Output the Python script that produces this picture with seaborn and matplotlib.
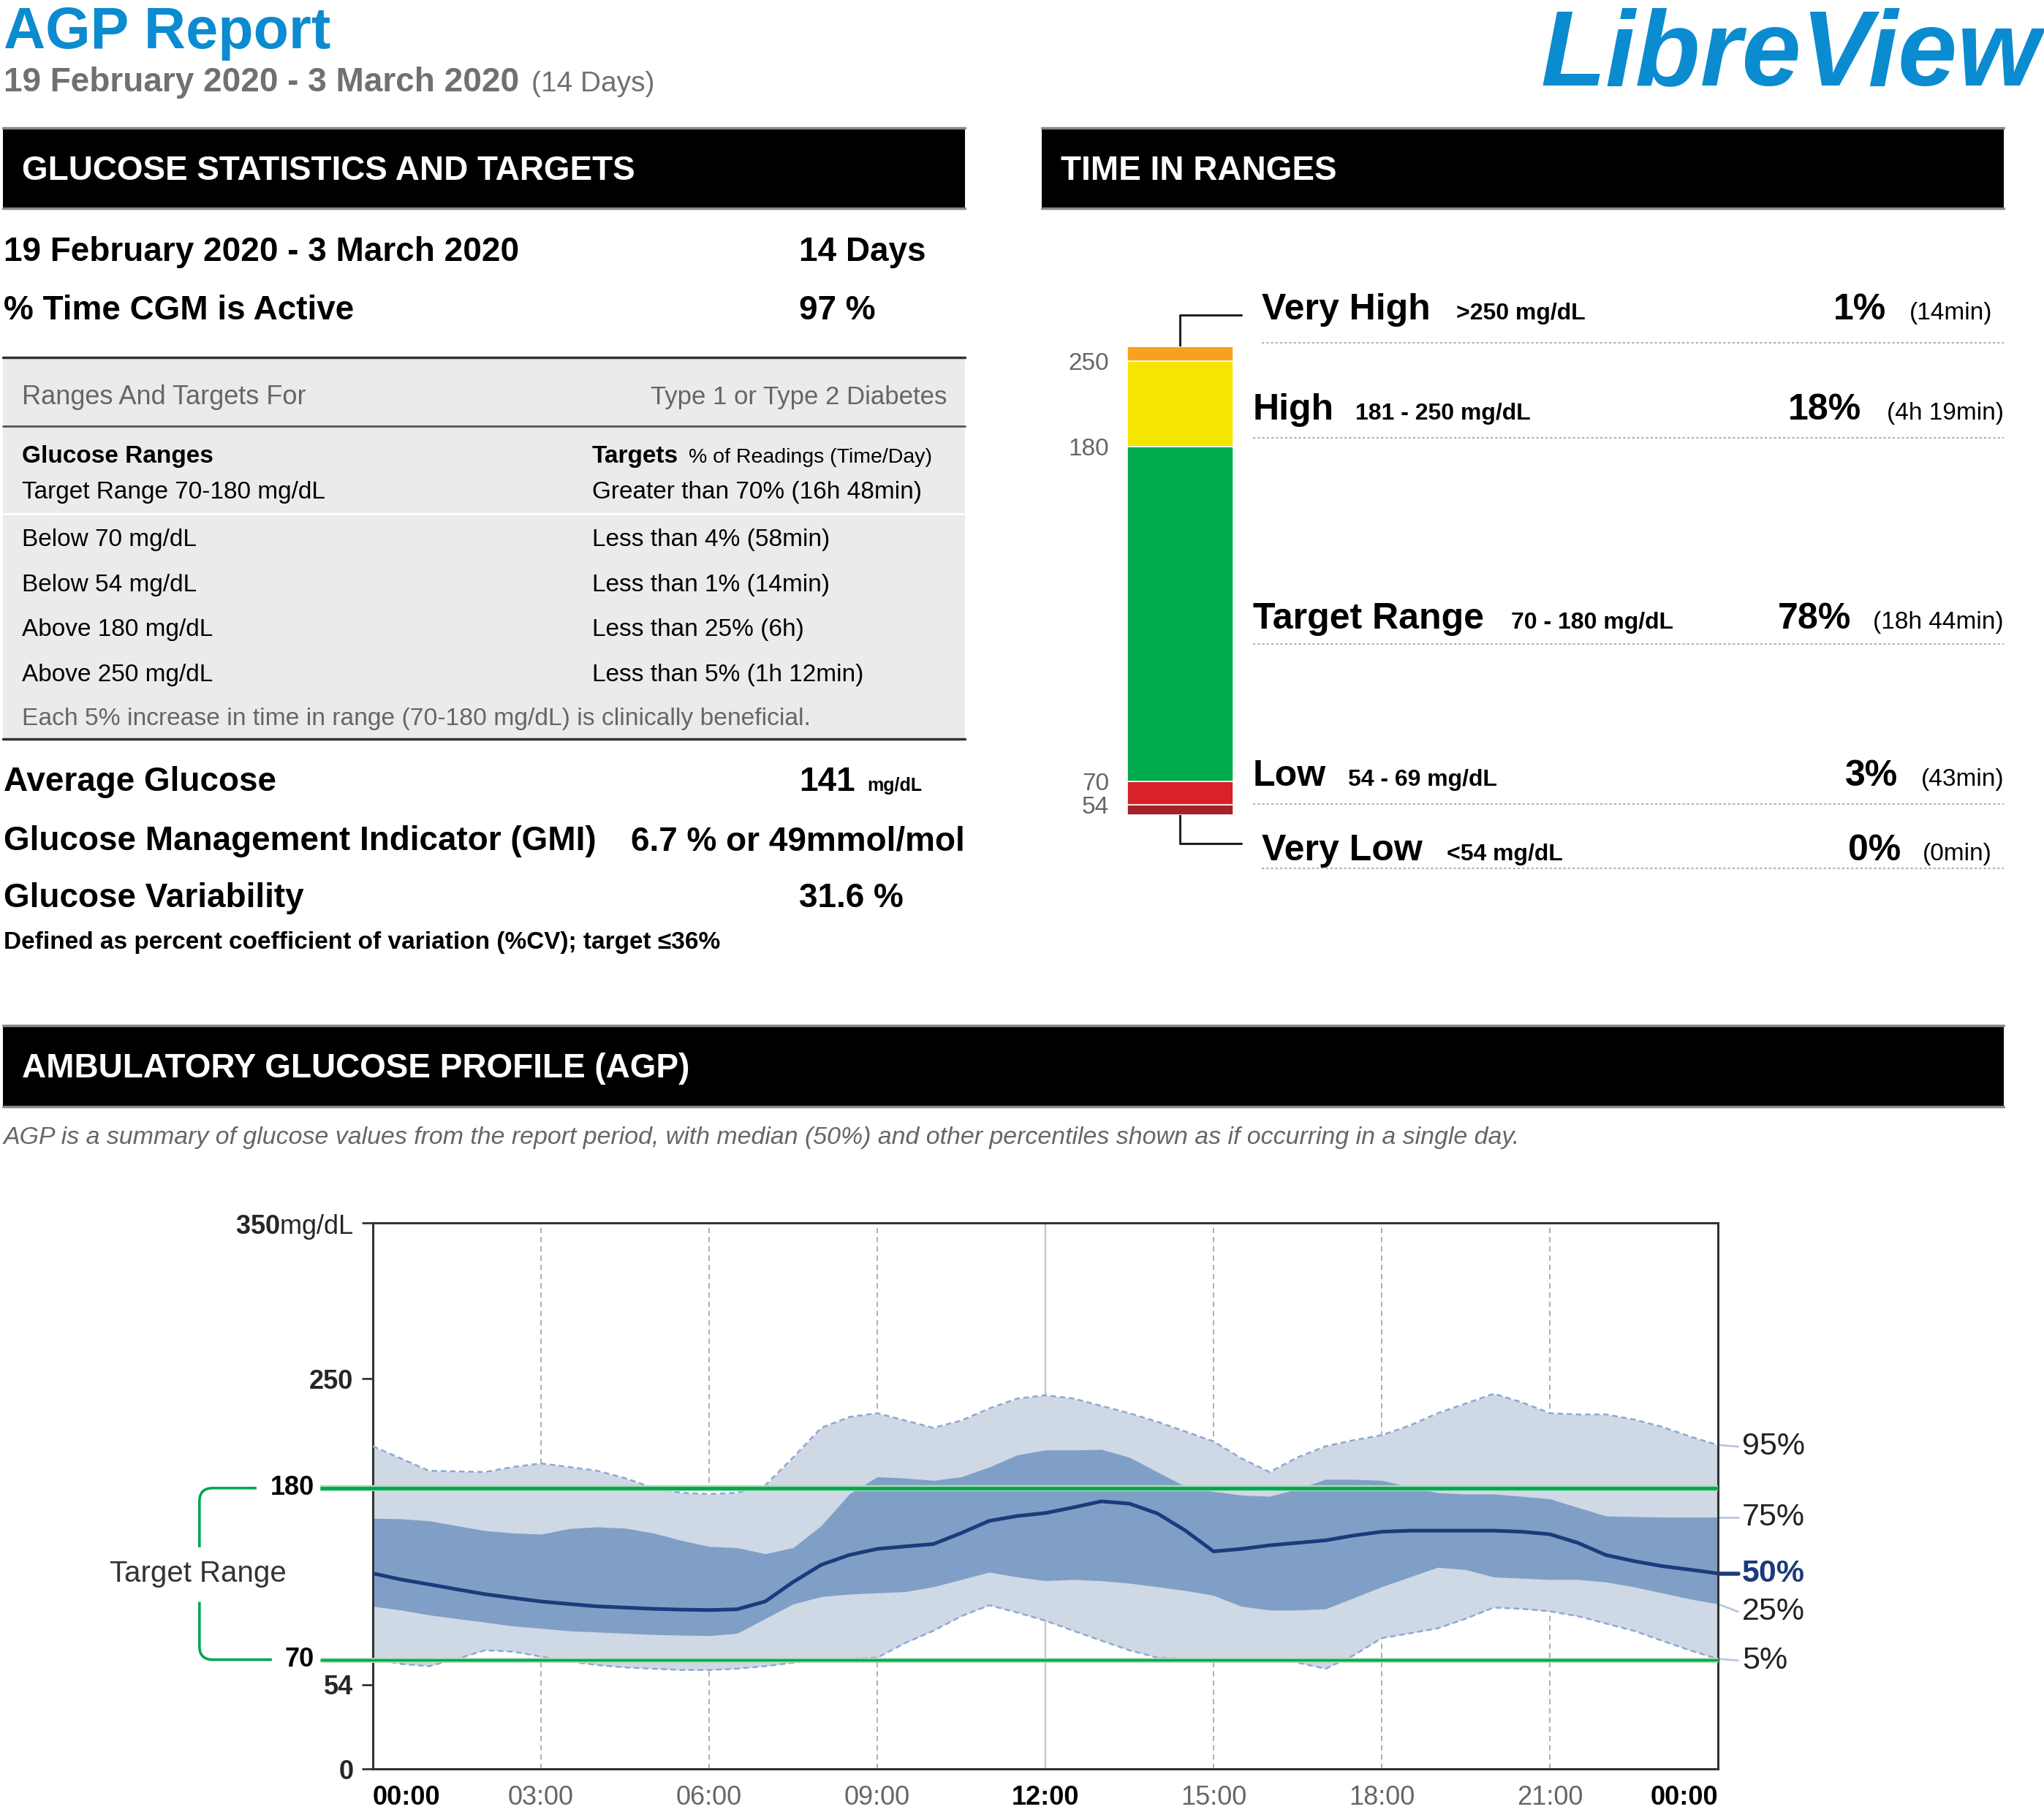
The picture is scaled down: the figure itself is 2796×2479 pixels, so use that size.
import numpy as np
import pandas as pd
import matplotlib
matplotlib.use("Agg")
import matplotlib.pyplot as plt
import seaborn as sns
from matplotlib.patches import Rectangle, PathPatch
from matplotlib.path import Path

# ---- report data ----
date_range = "19 February 2020 - 3 March 2020"
n_days = 14
cgm_active = 97
avg_glucose = 141
gmi_text = "6.7 % or 49mmol/mol"
glucose_cv = 31.6

range_labels = ["Target Range 70-180 mg/dL", "Below 70 mg/dL", "Below 54 mg/dL",
                "Above 180 mg/dL", "Above 250 mg/dL"]
target_labels = ["Greater than 70% (16h 48min)", "Less than 4% (58min)", "Less than 1% (14min)",
                 "Less than 25% (6h)", "Less than 5% (1h 12min)"]

# time in ranges, bottom -> top
tir_names = ["Very Low", "Low", "Target Range", "High", "Very High"]
tir_ranges = ["<54 mg/dL", "54 - 69 mg/dL", "70 - 180 mg/dL", "181 - 250 mg/dL", ">250 mg/dL"]
tir_pct = np.array([0, 3, 78, 18, 1])
tir_time = ["(0min)", "(43min)", "(18h 44min)", "(4h 19min)", "(14min)"]
tir_bounds = ["54", "70", "180", "250"]
tir_colors = ["#a3222a", "#d92128", "#00aa4f", "#f4e600", "#f7a11d"]

# AGP percentiles, every half hour from 00:00 to 24:00
hours = np.arange(0, 24.5, 0.5)
p95 = [206.8, 199.0, 191.1, 190.7, 190.3, 193.5, 195.8, 193.5, 191.1, 186.4, 180.2, 177.0, 176.2,
       177.0, 181.7, 199.7, 218.6, 225.6, 228.0, 223.3, 218.6, 223.3, 231.1, 237.4, 239.5,
       237.4, 232.7, 228.0, 222.5, 216.2, 209.9, 199.0, 190.3, 199.7, 206.8, 210.7, 213.9,
       220.1, 228.0, 234.2, 240.5, 235.0, 228.0, 227.2, 227.2, 224.0, 219.3, 213.1, 207.6]
p75 = [160.6, 160.3, 159.0, 155.9, 152.7, 151.2, 150.4, 154.0, 155.1, 154.3, 151.2, 146.5, 142.6,
       141.8, 137.9, 141.8, 155.9, 176.2, 187.2, 186.4, 184.9, 187.2, 193.5, 201.3, 204.4,
       204.4, 204.8, 199.7, 190.3, 180.9, 177.8, 175.5, 174.7, 179.4, 185.6, 185.6, 184.9,
       180.9, 177.0, 176.2, 176.2, 174.7, 173.1, 167.6, 162.1, 161.7, 161.4, 161.4, 161.4]
p50 = [125.3, 121.4, 118.3, 115.1, 112.0, 109.6, 107.3, 105.7, 104.2, 103.4, 102.6, 102.1, 101.8,
       102.3, 107.3, 119.8, 130.8, 137.1, 141.0, 142.6, 144.1, 151.2, 159.0, 162.1, 164.0,
       167.6, 171.5, 170.0, 163.7, 152.7, 139.4, 141.0, 143.3, 144.9, 146.5, 149.6, 152.0,
       152.7, 152.7, 152.7, 152.7, 152.0, 150.4, 144.9, 137.1, 133.2, 130.0, 127.7, 125.3]
p25 = [104.2, 101.8, 98.7, 96.3, 94.0, 91.6, 90.1, 88.5, 87.7, 86.9, 86.1, 85.7, 85.4,
       86.9, 96.3, 105.7, 110.4, 112.0, 112.8, 113.6, 116.7, 121.4, 126.1, 123.0, 120.6,
       121.4, 120.6, 119.0, 116.7, 114.3, 111.2, 104.2, 101.8, 101.8, 102.6, 109.6, 116.7,
       123.0, 129.2, 127.7, 123.0, 122.2, 121.4, 121.4, 119.8, 116.7, 112.8, 108.9, 105.7]
p5 = [70.5, 67.3, 65.8, 70.5, 76.0, 75.2, 72.0, 68.9, 66.6, 65.0, 64.2, 63.4, 63.4,
      64.2, 65.8, 68.1, 69.7, 70.5, 71.3, 80.7, 88.5, 97.9, 104.9, 100.2, 95.0,
      88.5, 82.2, 76.0, 71.3, 70.5, 70.5, 70.5, 70.5, 68.1, 64.2, 72.8, 83.8,
      86.9, 90.1, 96.3, 103.4, 102.6, 101.0, 97.9, 93.2, 88.5, 82.2, 76.0, 70.5]
pct_labels = ["95%", "75%", "50%", "25%", "5%"]
time_labels = ["00:00", "03:00", "06:00", "09:00", "12:00", "15:00", "18:00", "21:00", "00:00"]

agp = pd.DataFrame({"hour": hours, "p5": p5, "p25": p25, "p50": p50, "p75": p75, "p95": p95})

# ---- style ----
sns.set_theme(style="white")
plt.rcParams["font.family"] = ["Liberation Sans", "DejaVu Sans"]
plt.rcParams["mathtext.fontset"] = "custom"
plt.rcParams["mathtext.rm"] = "Liberation Sans"
plt.rcParams["mathtext.bf"] = "Liberation Sans:bold"

BLUE = "#0b8bd0"
GREY = "#707070"
GREEN = "#00a650"

W, H = 2796, 2479
fig = plt.figure(figsize=(W / 100, H / 100), dpi=100)
fig.patch.set_facecolor("white")
page = fig.add_axes([0, 0, 1, 1], zorder=0)
page.set_xlim(0, W)
page.set_ylim(H, 0)
page.axis("off")


def rect(x0, y0, x1, y1):
    return [x0 / W, 1 - y1 / H, (x1 - x0) / W, (y1 - y0) / H]


def put(x, y, s, size, weight="normal", color="black", ha="left", style="normal"):
    page.text(x, y, s, fontsize=size, fontweight=weight, color=color, ha=ha,
              va="baseline", fontstyle=style)


def header(x0, x1, y0, y1, label):
    page.add_patch(Rectangle((x0, y0), x1 - x0, y1 - y0, facecolor="black", edgecolor="none"))
    page.plot([x0, x1], [y0, y0], color="#8a8a8a", lw=2.5)
    page.plot([x0, x1], [y1, y1], color="#8a8a8a", lw=2.5)
    put(x0 + 26, (y0 + y1) / 2 + 16, label, 33, "bold", "white")


# ---- title ----
put(5, 66, "AGP Report", 57, "bold", BLUE)
put(5, 125, date_range, 33, "bold", GREY)
put(727, 125, f"({n_days} Days)", 28, color=GREY)
put(2791, 116, "LibreView", 105, "bold", BLUE, ha="right", style="italic")

header(4, 1320, 175, 285, "GLUCOSE STATISTICS AND TARGETS")
header(1425, 2741, 175, 285, "TIME IN RANGES")
header(4, 2741, 1403, 1514, "AMBULATORY GLUCOSE PROFILE (AGP)")

# ---- glucose statistics ----
put(5, 357, date_range, 33, "bold")
put(1093, 357, f"{n_days} Days", 33, "bold")
put(5, 437, "% Time CGM is Active", 33, "bold")
put(1093, 437, f"{cgm_active} %", 33, "bold")

page.add_patch(Rectangle((4, 489), 1316, 522, facecolor="#ebebea", edgecolor="none"))
page.plot([4, 1320], [489, 489], color="#333333", lw=2.5)
page.plot([4, 1320], [583, 583], color="#555555", lw=2)
page.plot([4, 1320], [703, 703], color="white", lw=2)
page.plot([4, 1320], [1011, 1011], color="#333333", lw=2.5)
put(30, 553, "Ranges And Targets For", 26, color="#666666")
put(1295, 553, "Type 1 or Type 2 Diabetes", 25, color="#666666", ha="right")
put(30, 633, "Glucose Ranges", 24, "bold")
put(810, 633, "Targets", 24, "bold")
put(1275, 633, "% of Readings (Time/Day)", 20.5, ha="right")
for yb, rl, tl in zip([682, 747, 809, 870, 932], range_labels, target_labels):
    put(30, yb, rl, 24)
    put(810, yb, tl, 24)
put(30, 992, "Each 5% increase in time in range (70-180 mg/dL) is clinically beneficial.",
    24.2, color="#666666")

put(5, 1082, "Average Glucose", 33, "bold")
put(1093, 1082, f"{avg_glucose}", 33, "bold")
put(1186, 1082, "mg/dL", 18, "bold")
put(5, 1163, "Glucose Management Indicator (GMI)", 33, "bold")
put(863, 1163, gmi_text, 33, "bold")
put(5, 1241, "Glucose Variability", 33, "bold")
put(1093, 1241, f"{glucose_cv} %", 33, "bold")
put(5, 1298, "Defined as percent coefficient of variation (%CV); target \u226436%", 24, "bold")

# ---- time in ranges bar ----
tir = fig.add_axes(rect(1542, 474, 1687, 1115), zorder=1)
shown = tir_pct + 2.5  # small floor so thin ranges stay visible
bottoms = np.concatenate([[0], np.cumsum(shown)[:-1]])
tir.bar(0, shown, bottom=bottoms, width=1.0, color=tir_colors, edgecolor="white", linewidth=1.2)
tir.set_xlim(-0.5, 0.5)
tir.set_ylim(0, shown.sum())
tir.set_xticks([])
tir.set_yticks(bottoms[1:])
tir.set_yticklabels(tir_bounds)
tir.tick_params(axis="y", length=0, pad=18, labelsize=24, labelcolor="#666666")
for s in tir.spines.values():
    s.set_visible(False)

page.plot([1614, 1614, 1698], [474, 431, 431], color="#222222", lw=2.2)
page.plot([1614, 1614, 1698], [1115, 1154, 1154], color="#222222", lw=2.2)

name_x = [1726, 1714, 1714, 1714, 1726]
sub_x = [1979, 1844, 2067, 1854, 1992]
base_y = [1177, 1075, 860, 574, 437]
pct_right = [2600, 2596, 2532, 2546, 2580]
time_right = [2725, 2741, 2741, 2741, 2725]
dot_y = [1188, 1100, 881, 599, 469]
for i in range(5):
    put(name_x[i], base_y[i], tir_names[i], 36, "bold")
    put(sub_x[i], base_y[i], tir_ranges[i], 23, "bold")
    put(pct_right[i], base_y[i], f"{tir_pct[i]}%", 36, "bold", ha="right")
    put(time_right[i], base_y[i], tir_time[i], 24, ha="right")
    page.plot([name_x[i], 2741], [dot_y[i], dot_y[i]], color="#b0b0b0", lw=1.5,
              ls=(0, (1.5, 1.5)))

# ---- AGP ----
put(5, 1565, "AGP is a summary of glucose values from the report period, with median (50%) "
    "and other percentiles shown as if occurring in a single day.", 24.4, color="#666666",
    style="italic")

ax = fig.add_axes(rect(510, 1673, 2350, 2420), zorder=2)
ax.set_facecolor("white")
ax.set_xlim(0, 24)
ax.set_ylim(0, 350)

for h in [3, 6, 9, 15, 18, 21]:
    ax.axvline(h, color="#a8a8a8", lw=1.3, ls=(0, (4, 3)), zorder=0.5)
ax.axvline(12, color="#c4c4c4", lw=1.6, zorder=0.5)

ax.fill_between(agp["hour"], agp["p5"], agp["p95"], color="#cfd8e5", lw=0, zorder=1)
ax.fill_between(agp["hour"], agp["p25"], agp["p75"], color="#809fc6", lw=0, zorder=2)
for col in ["p95", "p5"]:
    sns.lineplot(data=agp, x="hour", y=col, ax=ax, color="#8ea8d3", lw=1.8,
                 linestyle=(0, (3, 2)), zorder=3)

ytr = ax.get_yaxis_transform()
for val, halo, core in [(180, 6, 3.4), (70, 5, 2.4)]:
    ax.plot([-0.039, 1], [val, val], transform=ytr, color="#a9dcb8", lw=halo,
            clip_on=False, zorder=4, solid_capstyle="butt")
    ax.plot([-0.039, 1], [val, val], transform=ytr, color=GREEN, lw=core,
            clip_on=False, zorder=4.1, solid_capstyle="butt")
    ax.text(-0.0435, val, str(val), transform=ytr, ha="right", va="center",
            fontsize=26, fontweight="bold", color="black")

sns.lineplot(data=agp, x="hour", y="p50", ax=ax, color="#1c3a7c", lw=3.6, zorder=5)

# target range bracket
xL, xa1, xa2, rx, ry = -0.1289, -0.0865, -0.0751, 0.010, 8.5
upper = Path([(xa1, 180), (xL + rx, 180), (xL, 180), (xL, 180 - ry), (xL, 142)],
             [Path.MOVETO, Path.LINETO, Path.CURVE3, Path.CURVE3, Path.LINETO])
lower = Path([(xL, 107), (xL, 70 + ry), (xL, 70), (xL + rx, 70), (xa2, 70)],
             [Path.MOVETO, Path.LINETO, Path.CURVE3, Path.CURVE3, Path.LINETO])
for pth in [upper, lower]:
    ax.add_patch(PathPatch(pth, transform=ytr, fill=False, edgecolor=GREEN, lw=2.6,
                           clip_on=False))
ax.text(-0.130, 125, "Target Range", transform=ytr, ha="center", va="center",
        fontsize=29, color="#333333")

# percentile labels at the right edge
ends = [p95[-1], p75[-1], p50[-1], p25[-1], p5[-1]]
label_y = [ends[0] - 1, ends[1], ends[2], ends[3] - 5, ends[4] - 1]
for i, lab in enumerate(pct_labels):
    is_med = lab == "50%"
    ax.plot([1.0, 1.015], [ends[i], label_y[i]], transform=ytr, clip_on=False,
            color="#1c3a7c" if is_med else "#b8c6dc", lw=4 if is_med else 2)
    ax.text(1.018, label_y[i], lab, transform=ytr, ha="left", va="center", fontsize=31,
            fontweight="bold" if is_med else "normal",
            color="#1c3a7c" if is_med else "#222222")

ax.set_xticks(range(0, 25, 3))
ax.set_xticklabels(time_labels)
ax.set_yticks([0, 54, 250, 350])
ax.set_yticklabels(["0", "54", "250", r"$\mathbf{350}$mg/dL"])
ax.tick_params(axis="x", length=0, pad=16, labelsize=26)
ax.tick_params(axis="y", left=True, direction="out", length=11, width=2, color="#333333",
               pad=8, labelsize=26)
for i, t in enumerate(ax.get_xticklabels()):
    if i in (0, 4, 8):
        t.set_fontweight("bold")
        t.set_color("black")
    else:
        t.set_color("#666666")
ax.get_xticklabels()[0].set_ha("left")
ax.get_xticklabels()[-1].set_ha("right")
for t in ax.get_yticklabels()[:3]:
    t.set_fontweight("bold")
ax.set_xlabel("")
ax.set_ylabel("")
for s in ax.spines.values():
    s.set_visible(True)
    s.set_color("#333333")
    s.set_linewidth(2.2)

fig.savefig("out.png", dpi=100)
